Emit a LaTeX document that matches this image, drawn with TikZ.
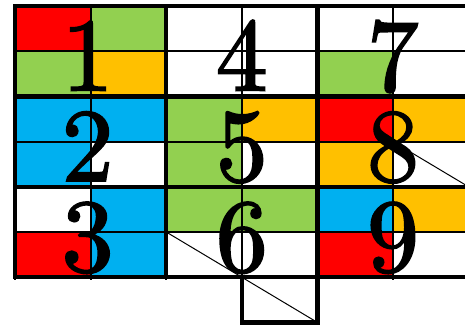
\documentclass[tikz,border=0pt]{standalone}
\usepackage{tikz}
\usepackage{fontspec}
\newfontfamily\digfont{Latin Modern Roman}[FakeBold=1.8]
\definecolor{cred}{HTML}{FF0000}
\definecolor{cgreen}{HTML}{92D050}
\definecolor{corange}{HTML}{FFC000}
\definecolor{cblue}{HTML}{00B0F0}
\tikzset{
 gthin/.style={draw=black, line width=2pt},
 gthick/.style={draw=black, line width=4.5pt, line cap=rect},
 diag/.style={draw=black, line width=1pt},
 dig/.style={anchor=base, inner sep=0pt, scale=10.4, font=\normalsize\digfont},
}
\begin{document}
\begin{tikzpicture}[x=75.6pt, y=-45.2pt, shift={(15pt,-6pt)}]
 \useasboundingbox (-15pt,6pt) rectangle (450pt,-321pt);
 \clip (-15pt,6pt) rectangle (450pt,-321pt);
 % cell fills
 \foreach \c/\r/\col in {0/0/cred, 1/0/cgreen, 0/1/cgreen, 1/1/corange, 4/1/cgreen,
   0/2/cblue, 1/2/cblue, 2/2/cgreen, 3/2/corange, 4/2/cred, 5/2/corange,
   0/3/cblue, 2/3/cgreen, 4/3/corange,
   1/4/cblue, 2/4/cgreen, 3/4/cgreen, 4/4/cblue, 5/4/corange,
   0/5/cred, 1/5/cblue, 4/5/cred}
   \fill[fill=\col] (\c,\r) rectangle ++(1,1);
 % thin grid
 \foreach \i in {0,...,6} \draw[gthin] (\i,0) -- (\i,6.06);
 \foreach \j in {1,3,5} \draw[gthin] (0,\j) -- (6,\j);
 % thick grid
 \foreach \i in {0,2,4,6} {
   \draw[gthick] (\i,0) -- (\i,6);
   \draw[gthick] (0,\i) -- (6,\i);
 }
 % box below
 \draw[gthick] (3,6) rectangle (4,7);
 % diagonals
 \draw[diag] (2,5) -- (3,6);
 \draw[diag] (3,6) -- (4,7);
 \draw[diag] (5,3) -- (6,4);
 % digits
 \node[dig] (D1) at (0.96,1.87) {1};
 \node[dig] (D2) at (0.96,3.87) {2};
 \node[dig] (D3) at (0.96,5.87) {3};
 \node[dig] (D4) at (3,1.87) {4};
 \node[dig] (D5) at (3,3.87) {5};
 \node[dig] (D6) at (3,5.87) {6};
 \node[dig] (D7) at (5,1.87) {7};
 \node[dig] (D8) at (5,3.87) {8};
 \node[dig] (D9) at (5,5.87) {9};
\end{tikzpicture}
\end{document}
